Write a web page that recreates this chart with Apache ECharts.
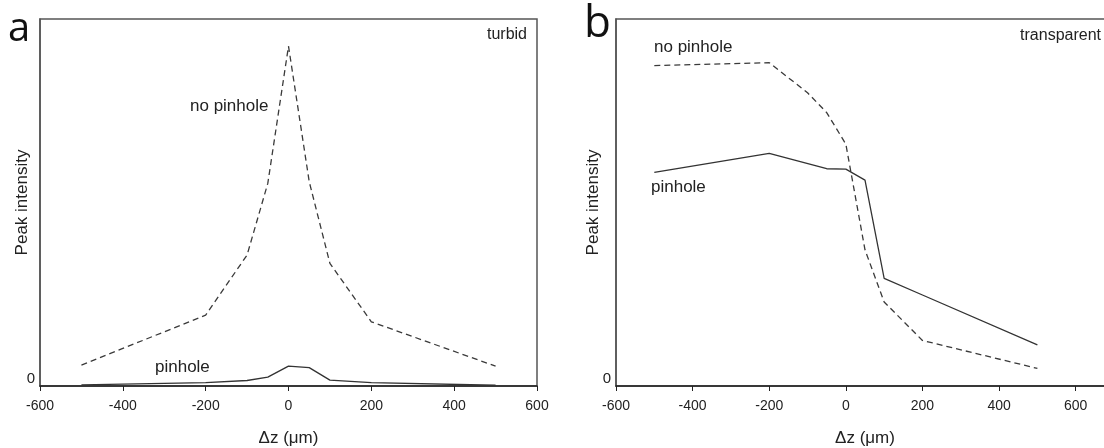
<!DOCTYPE html>
<html>
<head>
<meta charset="utf-8">
<script src="https://cdn.jsdelivr.net/npm/echarts@6/dist/echarts.min.js"></script>
<style>
  html, body { margin: 0; padding: 0; background: #fff; }
  #chart { width: 1104px; height: 448px; }
</style>
</head>
<body>
<div id="chart"></div>
<script>
// focal offsets (um)
const dzTurbid = [-500, -200, -100, -50, 0, 50, 100, 200, 500];
const dzTransparent = [-500, -200, -100, -50, 0, 50, 100, 200, 500];

// peak intensity, arbitrary units (0..100 = axis height)
const turbidNoPinhole = [5.7, 19.3, 35.7, 55.2, 92.6, 55.7, 33.4, 17.5, 5.4];
const turbidPinhole = [0.3, 0.9, 1.5, 2.4, 5.4, 5.0, 1.6, 0.9, 0.2];
const transNoPinhole = [87.3, 88.1, 79.9, 74.5, 65.9, 37.1, 22.9, 12.4, 4.8];
const transPinhole = [58.2, 63.4, null, 59.2, 59.1, 56.1, 29.3, 24.8, 11.2];

const xTicks = [-600, -400, -200, 0, 200, 400, 600];

const font = "'Liberation Sans', Arial, sans-serif";
const pair = (xs, ys) => xs.map((x, i) => [x, ys[i]]).filter(p => p[1] !== null);

const chart = echarts.init(document.getElementById("chart"));

const xAxisBase = (idx, max) => ({
  gridIndex: idx,
  type: "value",
  min: -600,
  max: max,
  interval: 200,
  name: "\u0394z (\u03bcm)",
  nameLocation: "middle",
  nameGap: 44,
  nameTextStyle: { fontFamily: font, fontSize: 17, color: "#222" },
  axisLine: { onZero: false, lineStyle: { color: "#222", width: 1.5 } },
  axisTick: { show: true, length: 5, lineStyle: { color: "#222" } },
  axisLabel: {
    fontFamily: font, fontSize: 14, color: "#222", margin: 13,
    formatter: (v) => (xTicks.indexOf(v) >= 0 ? String(v) : ""),
  },
  splitLine: { show: false },
});

const yAxisBase = (idx, gap) => ({
  gridIndex: idx,
  type: "value",
  min: 0,
  max: 100,
  interval: 100,
  name: "Peak intensity",
  nameLocation: "middle",
  nameGap: gap,
  nameMoveOverlap: false,
  nameTextStyle: { fontFamily: font, fontSize: 17, color: "#222" },
  axisLine: { show: true, onZero: false, lineStyle: { color: "#555", width: 1.5 } },
  axisTick: { show: false },
  axisLabel: {
    fontFamily: font, fontSize: 15, color: "#222", margin: 5,
    verticalAlign: "bottom",
    formatter: (v) => (v === 0 ? "0" : ""),
  },
  splitLine: { show: false },
});

const lineSeries = (idx, data, dashed) => ({
  type: "line",
  xAxisIndex: idx,
  yAxisIndex: idx,
  data: data,
  symbol: "none",
  lineStyle: {
    color: dashed ? "#3a3a3a" : "#333",
    width: 1.3,
    type: dashed ? [6, 4] : "solid",
  },
  silent: true,
  animation: false,
});

const txt = (x, y, s, size, align) => ({
  type: "text",
  x: x,
  y: y,
  style: {
    text: s,
    fontFamily: font,
    fontSize: size,
    fill: "#222",
    align: align || "left",
    verticalAlign: "middle",
  },
});

const option = {
  backgroundColor: "#fff",
  animation: false,
  grid: [
    { left: 40, top: 19, width: 497, height: 367, show: true, borderColor: "#555", borderWidth: 1.5, outerBoundsMode: "none", containLabel: false },
    { left: 616, top: 19, width: 498, height: 367, show: true, borderColor: "#555", borderWidth: 1.5, outerBoundsMode: "none", containLabel: false },
  ],
  xAxis: [xAxisBase(0, 600), xAxisBase(1, 700)],
  yAxis: [yAxisBase(0, 9), yAxisBase(1, 14)],
  series: [
    lineSeries(0, pair(dzTurbid, turbidNoPinhole), true),
    lineSeries(0, pair(dzTurbid, turbidPinhole), false),
    lineSeries(1, pair(dzTransparent, transNoPinhole), true),
    lineSeries(1, pair(dzTransparent, transPinhole), false),
  ],
  graphic: [
    {
      type: "text", x: 8, y: 30,
      style: { text: "a", fontFamily: "'Open Sans', sans-serif", fontSize: 40, fill: "#111", verticalAlign: "middle" },
    },
    {
      type: "text", x: 584, y: 24,
      style: { text: "b", fontFamily: "'Open Sans', sans-serif", fontSize: 44, fill: "#111", verticalAlign: "middle" },
    },
    txt(527, 35, "turbid", 16, "right"),
    txt(1101, 36, "transparent", 16, "right"),
    txt(190, 106, "no pinhole", 17),
    txt(155, 367, "pinhole", 17),
    txt(654, 47, "no pinhole", 17),
    txt(651, 187, "pinhole", 17),
  ],
};

chart.setOption(option);
</script>
</body>
</html>
